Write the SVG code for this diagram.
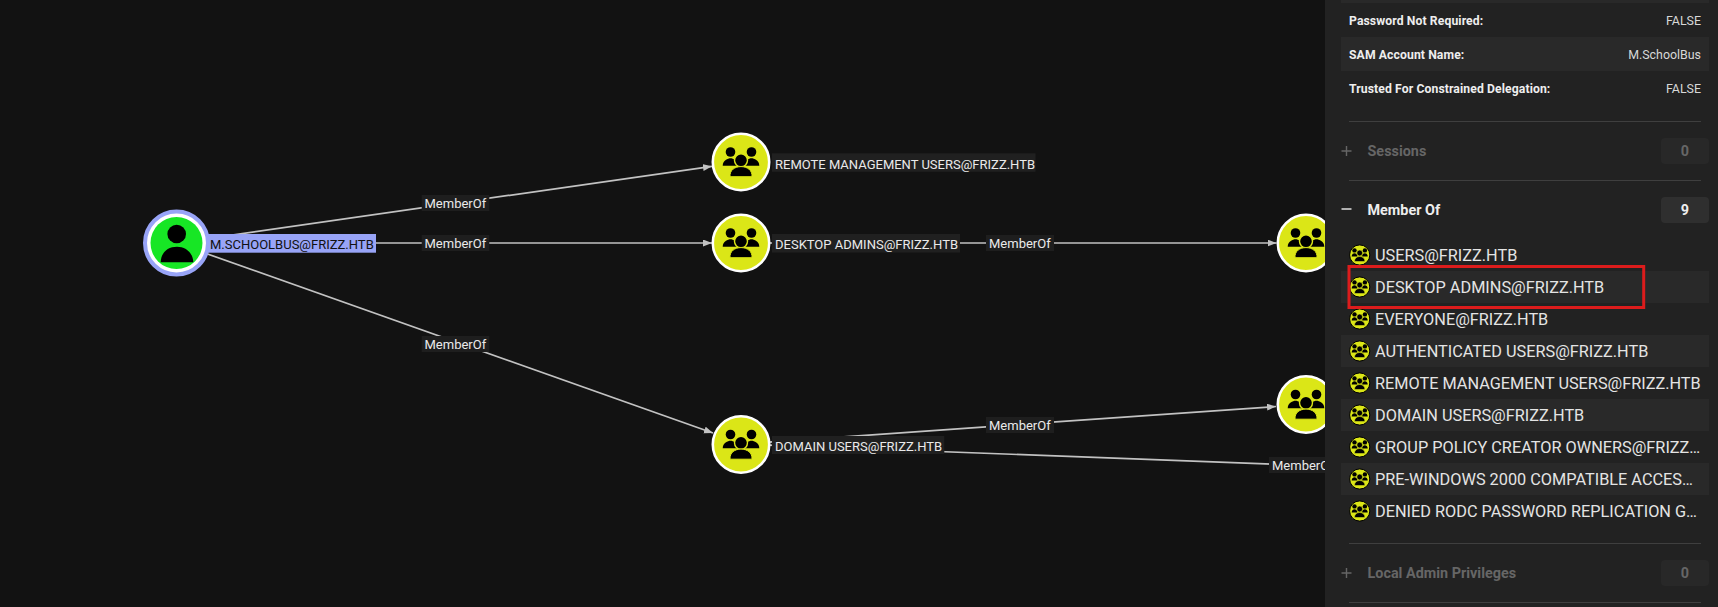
<svg xmlns="http://www.w3.org/2000/svg" width="1718" height="607" viewBox="0 0 1718 607">
<style>
text{font-family:Roboto,"Liberation Sans",sans-serif}
.edge{stroke:#c2c2c2;stroke-width:1.7;fill:none;marker-end:url(#arrow)}
.edge-open{stroke:#c2c2c2;stroke-width:1.7;fill:none}
.elb{fill:#1e1e1e}
.elt{font-size:13px;fill:#eaeaea}
.nlb{fill:#202020}
.nlt{font-size:13px;fill:#eaeaea}
.row{fill:#292929}
.k{font-size:12.2px;font-weight:700;fill:#eeeeee;letter-spacing:.1px}
.v{font-size:12.4px;fill:#d8d8d8;text-anchor:end}
.div{stroke:#3f3f3f;stroke-width:1}
.h{font-size:14.4px;font-weight:700}
.dim{fill:#666666}
.on{fill:#eeeeee}
.bd{fill:#282828}
.bdon{fill:#2f2f2f}
.li{font-size:16.3px;fill:#e4e4e4}
</style>
<defs>
<marker id="arrow" markerUnits="userSpaceOnUse" markerWidth="10" markerHeight="8" refX="9" refY="3.5" orient="auto"><path d="M0,0L9,3.5L0,7z" fill="#c2c2c2"/></marker>
<g id="groupIcon">
<circle cx="-10.5" cy="-10" r="4.8" fill="#000"/><circle cx="10.5" cy="-10" r="4.8" fill="#000"/>
<path d="M-18.3,3.7C-18.3,-1.5-13,-3.7-10.5,-3.7C-8,-3.7-3,-1.5-3,3.7z" fill="#000"/>
<path d="M18.3,3.7C18.3,-1.5,13,-3.7,10.5,-3.7C8,-3.7,3,-1.5,3,3.7z" fill="#000"/>
<circle cx="0" cy="-1.7" r="6.5" fill="#000" stroke="#dbe617" stroke-width="1.4"/>
<path d="M-11,14.7C-11.5,8-6,4.6,0,4.6C6,4.6,11.5,8,11,14.7z" fill="#000" stroke="#dbe617" stroke-width="1"/>
</g>
<g id="groupNode"><circle r="28.2" fill="#dbe617" stroke="#ffffff" stroke-width="2.6"/><use href="#groupIcon"/></g>
<g id="listIcon"><circle r="10.1" fill="#dbe617" stroke="#000" stroke-width="1"/>
<circle cx="-5.2" cy="-4.6" r="2.2" fill="#000"/><circle cx="5.2" cy="-4.6" r="2.2" fill="#000"/>
<path d="M-8,1.6C-8,-1-6.4,-1.8-5.2,-1.8C-4,-1.8-2.4,-1,-2.4,1.6z" fill="#000"/>
<path d="M8,1.6C8,-1,6.4,-1.8,5.2,-1.8C4,-1.8,2.4,-1,2.4,1.6z" fill="#000"/>
<circle cx="0" cy="-2" r="2.9" fill="#000" stroke="#dbe617" stroke-width=".6"/>
<path d="M-5.2,6.6C-5.4,3.4-2.8,1.5,0,1.5C2.8,1.5,5.4,3.4,5.2,6.6z" fill="#000" stroke="#dbe617" stroke-width=".6"/>
</g>
</defs>
<rect width="1718" height="607" fill="#121212"/>
<g id="connectors">
<path class="edge" d="M176.5,243L712,166.3"/>
<path class="edge" d="M176.5,243L712,243"/>
<path class="edge" d="M176.5,243L713,433"/>
<path class="edge" d="M741,243L1276.5,243"/>
<path class="edge" d="M741,444L1276,406.5"/>
<path class="edge-open" d="M741,444L1272,464.1"/>
<g id="edge-labels">
<rect class="elb" x="421.7" y="195" width="67.6" height="16"/><text class="elt" x="424.5" y="208">MemberOf</text>
<rect class="elb" x="421.7" y="235" width="67.6" height="16"/><text class="elt" x="424.5" y="248">MemberOf</text>
<rect class="elb" x="421.7" y="336" width="67.6" height="16"/><text class="elt" x="424.5" y="349">MemberOf</text>
<rect class="elb" x="986" y="235" width="68" height="16"/><text class="elt" x="989" y="248">MemberOf</text>
<rect class="elb" x="986" y="417" width="68" height="16"/><text class="elt" x="989" y="430">MemberOf</text>
<rect class="elb" x="1269" y="457" width="68" height="16"/><text class="elt" x="1272" y="470">MemberOf</text>
</g>
</g>
<g id="node-user">
<circle cx="176.5" cy="243" r="31.5" fill="#ffffff" stroke="#98a4f7" stroke-width="4"/>
<circle cx="176.5" cy="243" r="26" fill="#17e625"/>
<circle cx="176.7" cy="234" r="9.3" fill="#000"/>
<path d="M160.7,262.3C161,252,168,246.7,177,246.7C185,246.7,193,252,193.3,262.3z" fill="#000"/>
<rect x="208" y="234" width="168" height="18.7" fill="#98a4f7"/>
<text class="nlt" x="210" y="249" style="fill:#111111">M.SCHOOLBUS@FRIZZ.HTB</text>
</g>
<g id="node-remote"><use href="#groupNode" x="741" y="162"/><rect class="nlb" x="772" y="153.3" width="263.5" height="18.5"/><text class="nlt" x="775" y="168.6">REMOTE MANAGEMENT USERS@FRIZZ.HTB</text></g>
<g id="node-desktop"><use href="#groupNode" x="741" y="243"/><rect class="nlb" x="772" y="234" width="188" height="18.5"/><text class="nlt" x="775" y="249">DESKTOP ADMINS@FRIZZ.HTB</text></g>
<g id="node-domain"><use href="#groupNode" x="741" y="444.5"/><rect class="nlb" x="772" y="436" width="172.3" height="18"/><text class="nlt" x="775" y="451">DOMAIN USERS@FRIZZ.HTB</text></g>
<g id="node-right-top"><use href="#groupNode" x="1306" y="243"/></g>
<g id="node-right-bottom"><use href="#groupNode" x="1306" y="404.5"/></g>
<g id="panel">
<rect x="1325" y="0" width="393" height="607" fill="#222222"/>
<rect class="row" x="1341" y="0" width="368" height="3"/>
<rect class="row" x="1341" y="37" width="368" height="34"/>
<text class="k" x="1349" y="25">Password Not Required:</text><text class="v" x="1701" y="25">FALSE</text>
<text class="k" x="1349" y="59">SAM Account Name:</text><text class="v" x="1701" y="59">M.SchoolBus</text>
<text class="k" x="1349" y="93">Trusted For Constrained Delegation:</text><text class="v" x="1701" y="93">FALSE</text>
<path class="div" d="M1349,121.5H1701M1349,180.5H1701M1349,543.5H1701M1349,602.5H1701"/>
<path d="M1341.5,151H1351.5M1346.5,146V156" stroke="#666666" stroke-width="1.4"/>
<text class="h dim" x="1367.5" y="156">Sessions</text>
<rect class="bd" x="1661" y="138" width="48" height="26" rx="4"/><text class="h dim" x="1685" y="156" text-anchor="middle">0</text>
<path d="M1341.5,209H1351.5" stroke="#eeeeee" stroke-width="1.4"/>
<text class="h on" x="1367.5" y="214.5">Member Of</text>
<rect class="bdon" x="1661" y="197" width="48" height="26" rx="4"/><text class="h on" x="1685" y="215" text-anchor="middle">9</text>
<rect class="row" x="1341" y="271" width="368" height="32"/>
<rect class="row" x="1341" y="335" width="368" height="32"/>
<rect class="row" x="1341" y="399" width="368" height="32"/>
<rect class="row" x="1341" y="463" width="368" height="32"/>
<use href="#listIcon" x="1359.7" y="255"/><text class="li" x="1375" y="261">USERS@FRIZZ.HTB</text>
<use href="#listIcon" x="1359.7" y="287"/><text class="li" x="1375" y="293">DESKTOP ADMINS@FRIZZ.HTB</text>
<use href="#listIcon" x="1359.7" y="319"/><text class="li" x="1375" y="325">EVERYONE@FRIZZ.HTB</text>
<use href="#listIcon" x="1359.7" y="351"/><text class="li" x="1375" y="357">AUTHENTICATED USERS@FRIZZ.HTB</text>
<use href="#listIcon" x="1359.7" y="383"/><text class="li" x="1375" y="389">REMOTE MANAGEMENT USERS@FRIZZ.HTB</text>
<use href="#listIcon" x="1359.7" y="415"/><text class="li" x="1375" y="421">DOMAIN USERS@FRIZZ.HTB</text>
<use href="#listIcon" x="1359.7" y="447"/><text class="li" x="1375" y="453">GROUP POLICY CREATOR OWNERS@FRIZZ…</text>
<use href="#listIcon" x="1359.7" y="479"/><text class="li" x="1375" y="485">PRE-WINDOWS 2000 COMPATIBLE ACCES…</text>
<use href="#listIcon" x="1359.7" y="511"/><text class="li" x="1375" y="517">DENIED RODC PASSWORD REPLICATION G…</text>
<path d="M1341.5,573H1351.5M1346.5,568V578" stroke="#666666" stroke-width="1.4"/>
<text class="h dim" x="1367.5" y="578">Local Admin Privileges</text>
<rect class="bd" x="1661" y="560" width="48" height="26" rx="4"/><text class="h dim" x="1685" y="578" text-anchor="middle">0</text>
<rect x="1349" y="266.5" width="294.7" height="41" fill="none" stroke="#dc1c1c" stroke-width="3"/>
</g>
</svg>
